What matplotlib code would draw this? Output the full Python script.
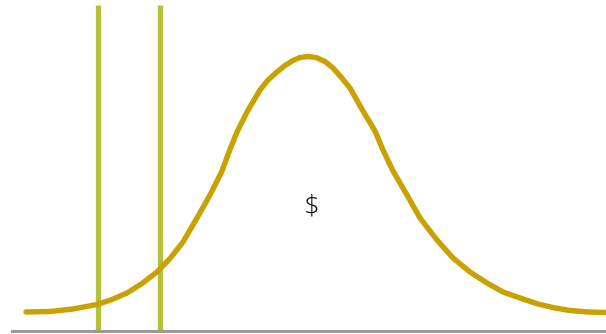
import matplotlib
matplotlib.use('Agg')
from matplotlib import pyplot as plt

# curve: x position, pixel row of the curve
curve_x = [26, 50, 73, 97, 112, 127, 142, 157, 170, 183, 197, 210, 222, 229,
           237, 247, 260, 268, 277, 285, 293, 300, 308, 316, 325, 333, 341, 350,
           363, 375, 383, 393, 407, 420, 437, 453, 470, 487, 503, 520, 538,
           555, 570, 588, 606]
curve_row = [312, 311.5, 309, 304.5, 299.5, 293, 283.5, 272, 258.5, 242, 218, 195, 171, 152,
             132, 112, 90, 80, 72, 65.5, 60.5, 57.5, 56.5, 57.5, 61.5, 68, 77, 88,
             111, 131, 150, 171, 195, 218, 240, 258, 272, 283, 292, 298, 304,
             308, 310.5, 312, 312.5]
BASE_ROW = 331
curve_h = [BASE_ROW - r for r in curve_row]

# vertical markers
marker_x = [97.5, 159.5]
marker_top = 326

label = '$'
label_x = 312
label_h = 123

GOLD = '#C9A100'
GREEN = '#B6C139'
GREY = '#9a9a9a'

fig = plt.figure(figsize=(6.06, 3.34), dpi=100)
ax = fig.add_axes([0, 0, 1, 1])
ax.set_xlim(0, 606)
ax.set_ylim(-3, 331)

ax.vlines(marker_x, 0, marker_top, colors=GREEN, linewidth=3.8, zorder=2)
ax.plot(curve_x, curve_h, color=GOLD, linewidth=3.9, solid_capstyle='round',
        solid_joinstyle='round', antialiased=True, zorder=3)
ax.text(label_x, label_h, label, fontsize=20, fontweight='light',
        family=['Open Sans', 'DejaVu Sans'],
        color='#111111', ha='center', va='center', zorder=4)

for s in ['top', 'left', 'right']:
    ax.spines[s].set_visible(False)
ax.spines['bottom'].set_position(('data', 0))
ax.spines['bottom'].set_bounds(12, 606)
ax.spines['bottom'].set_color(GREY)
ax.spines['bottom'].set_linewidth(2.2)
ax.set_xticks([])
ax.set_yticks([])

fig.savefig('out.png', dpi=100)
